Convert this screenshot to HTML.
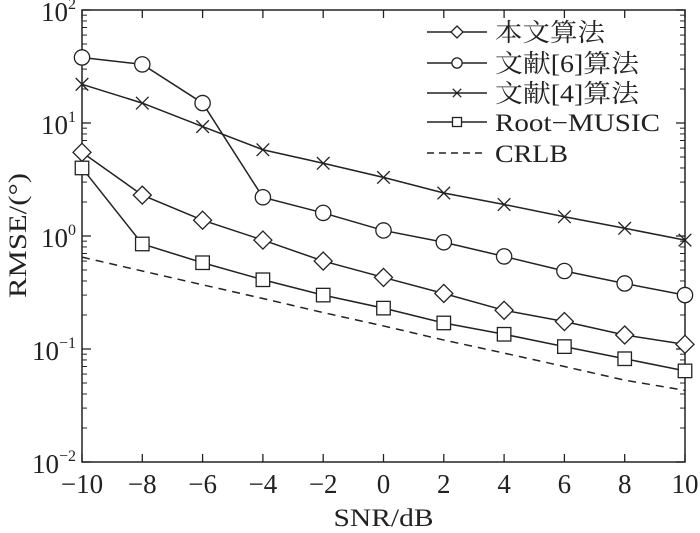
<!DOCTYPE html>
<html><head><meta charset="utf-8"><style>
html,body{margin:0;padding:0;background:#fff;}
svg text{font-family:"Liberation Serif","Noto Serif CJK SC",serif;fill:#222;}
</style></head><body>
<svg id="chart" width="700" height="528" xmlns="http://www.w3.org/2000/svg"></svg>
<script>
const snr = [-10,-8,-6,-4,-2,0,2,4,6,8,10];
const proposed = [5.5,2.3,1.38,0.92,0.6,0.43,0.31,0.22,0.175,0.133,0.11];
const ref6 = [38,33,15,2.2,1.6,1.12,0.88,0.66,0.49,0.38,0.3];
const ref4 = [22,15,9.3,5.8,4.4,3.3,2.4,1.9,1.48,1.17,0.92];
const rootMusic = [4.0,0.85,0.58,0.41,0.3,0.23,0.17,0.135,0.105,0.082,0.064];
const crlb = [0.65,0.49,0.37,0.28,0.21,0.16,0.12,0.092,0.07,0.053,0.043];
const xTicks = [-10,-8,-6,-4,-2,0,2,4,6,8,10];
const yDecades = [-2,-1,0,1,2];
const legendLabels = ["本文算法","文献[6]算法","文献[4]算法","Root−MUSIC","CRLB"];
const legendWidths = [110,144,144,165,73];

const L=82,R=685,T=10,B=462;
const NS="http://www.w3.org/2000/svg";
const svg=document.getElementById('chart');
function X(v){return L+(v+10)/20*(R-L);}
function Y(v){return B-(Math.log10(v)+2)/4*(B-T);}
function mk(tag,attrs,parent){const e=document.createElementNS(NS,tag);for(const k in attrs)e.setAttribute(k,attrs[k]);(parent||svg).appendChild(e);return e;}

const axes=mk('g',{});


const frame=mk('rect',{x:L,y:T,width:R-L,height:B-T,fill:'none',stroke:'#222','stroke-width':1.5},axes);


xTicks.forEach(t=>{
  mk('line',{x1:X(t),x2:X(t),y1:B,y2:B-8,stroke:'#222','stroke-width':1.3},axes);
  mk('line',{x1:X(t),x2:X(t),y1:T,y2:T+8,stroke:'#222','stroke-width':1.3},axes);
  const tx=mk('text',{x:X(t),y:B+31,'text-anchor':'middle','font-size':27},axes);
  tx.textContent=(t<0?'−':'')+Math.abs(t);
  
  
});
yDecades.forEach(d=>{
  const y=Y(Math.pow(10,d));
  mk('line',{x1:L,x2:L+9,y1:y,y2:y,stroke:'#222','stroke-width':1.3},axes);
  mk('line',{x1:R,x2:R-9,y1:y,y2:y,stroke:'#222','stroke-width':1.3},axes);
  if(d<2){for(let m=2;m<10;m++){const ym=Y(m*Math.pow(10,d));
    mk('line',{x1:L,x2:L+5,y1:ym,y2:ym,stroke:'#222','stroke-width':1},axes);
    mk('line',{x1:R,x2:R-5,y1:ym,y2:ym,stroke:'#222','stroke-width':1},axes);}}
  const tx=mk('text',{x:L-6,y:y+11,'text-anchor':'end','font-size':27},axes);
  
  
  tx.innerHTML='10<tspan dy="-12" font-size="16">'+(d<0?'−':'')+Math.abs(d)+'</tspan>';
});
const xt=mk('text',{x:(L+R)/2-50,y:526,'font-size':25,textLength:100,lengthAdjust:'spacingAndGlyphs'});
xt.textContent='SNR/dB';


const yt=mk('text',{x:-62,y:0,'font-size':25,textLength:125,lengthAdjust:'spacingAndGlyphs',transform:'translate(26,236) rotate(-90)'});
yt.textContent='RMSE/(°)';



function marker(g,type,x,y,s){
  if(type==='diamond')mk('polygon',{points:`${x},${y-s} ${x+s},${y} ${x},${y+s} ${x-s},${y}`,fill:'#fff',stroke:'#222','stroke-width':1.3},g);
  else if(type==='circle')mk('circle',{cx:x,cy:y,r:s*0.85,fill:'#fff',stroke:'#222','stroke-width':1.3},g);
  else if(type==='square')mk('rect',{x:x-s*0.75,y:y-s*0.75,width:s*1.5,height:s*1.5,fill:'#fff',stroke:'#222','stroke-width':1.3},g);
  else if(type==='cross'){const c=s*0.7;mk('path',{d:`M${x-c},${y-c}L${x+c},${y+c}M${x-c},${y+c}L${x+c},${y-c}`,stroke:'#222','stroke-width':1.3},g);}
}
const series=[
  {name:'series-proposed',data:proposed,m:'diamond',dash:null},
  {name:'series-ref6',data:ref6,m:'circle',dash:null},
  {name:'series-ref4',data:ref4,m:'cross',dash:null},
  {name:'series-root-music',data:rootMusic,m:'square',dash:null},
  {name:'series-crlb',data:crlb,m:null,dash:'8,6'}
];
series.forEach((s,i)=>{
  const g=mk('g',{});
  
  
  const pts=s.data.map((v,j)=>X(snr[j])+','+Y(v)).join(' ');
  const a={points:pts,fill:'none',stroke:'#222','stroke-width':1.5};
  if(s.dash)a['stroke-dasharray']=s.dash;
  mk('polyline',a,g);
  if(s.m)s.data.forEach((v,j)=>marker(g,s.m,X(snr[j]),Y(v),9));
  const ly=[32,63,93,122,153][i];
  const lg=mk('g',{});
  
  
  const la={x1:427,x2:487,y1:ly,y2:ly,stroke:'#222','stroke-width':1.5};
  if(s.dash)la['stroke-dasharray']='7,5';
  mk('line',la,lg);
  if(s.m)marker(lg,s.m,457,ly,6);
  const t=mk('text',{x:495,y:ly+9,'font-size':25,textLength:legendWidths[i],lengthAdjust:'spacingAndGlyphs'},lg);
  t.textContent=legendLabels[i];
});
</script>
</body></html>
